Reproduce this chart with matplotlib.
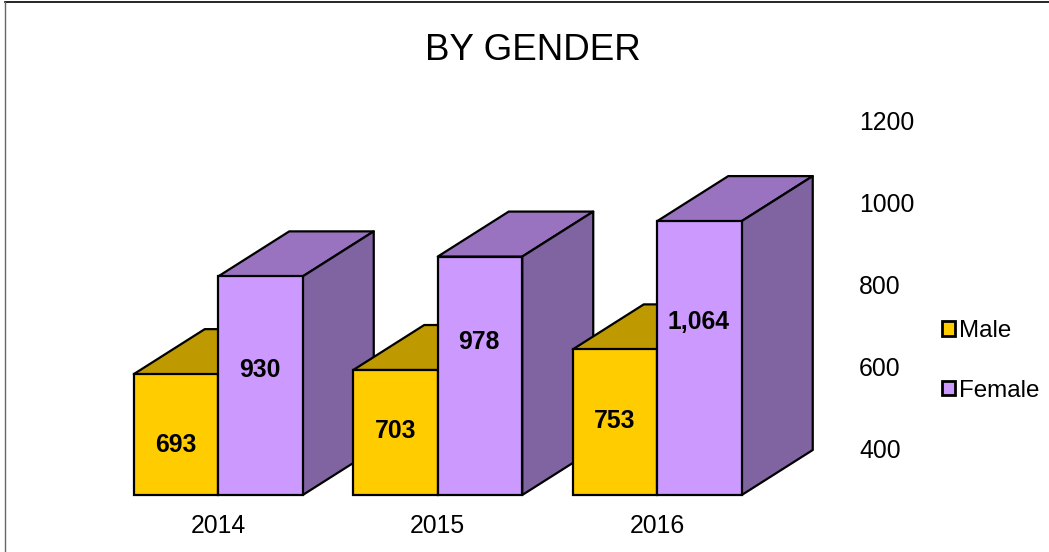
import matplotlib
matplotlib.use("Agg")
import matplotlib.pyplot as plt
import numpy as np
from matplotlib.lines import Line2D
from matplotlib.patches import Patch

plt.rcParams['font.family'] = ['Liberation Sans', 'DejaVu Sans']

years = ["2014", "2015", "2016"]
male = [693, 703, 753]
female = [930, 978, 1064]
male_labels = ["693", "703", "753"]
female_labels = ["930", "978", "1,064"]
axis_ticks = [400, 600, 800, 1000, 1200]

W, H = 1049, 552
BASE = 495           # pixel row of the front baseline
PX_PER_UNIT = 0.4125
DEPTH_X_PX, DEPTH_Y_PX = 71, 45
STEP_PX = 219.5
BAR = 84.5 / STEP_PX
DX = DEPTH_X_PX / STEP_PX
DY = DEPTH_Y_PX / PX_PER_UNIT

# where the data labels sit on the value scale
male_label_pos = [522, 556, 580]
female_label_pos = [704, 772, 820]

EDGE = 1.6
FONT = 17.8


def axes_px(left, right, top, bottom):
    return [left / W, 1 - bottom / H, (right - left) / W, (bottom - top) / H]


def draw_bar(ax, x, v, front, top_c, side_c):
    ax.bar(x, v - 400, BAR, bottom=400, color=front, edgecolor="black", linewidth=EDGE, zorder=3, clip_on=False)
    l, r = x - BAR / 2, x + BAR / 2
    ax.fill([l, r, r + DX, l + DX], [v, v, v + DY, v + DY], facecolor=top_c,
            edgecolor="black", linewidth=EDGE, zorder=2, clip_on=False, joinstyle="round")
    ax.fill([r, r + DX, r + DX, r], [400, 400 + DY, v + DY, v], facecolor=side_c,
            edgecolor="black", linewidth=EDGE, zorder=2, clip_on=False, joinstyle="round")


fig = plt.figure(figsize=(W / 100, H / 100), dpi=100, facecolor="white")

# front plane: the bars
ax = fig.add_axes(axes_px(108.5, 767, BASE - 800 * PX_PER_UNIT, BASE))
ax.set_xlim(-0.5, 2.5)
ax.set_ylim(400, 1200)
ax.patch.set_visible(False)
for s in ax.spines.values():
    s.set_visible(False)
ax.set_yticks([])
ax.set_xticks(np.arange(len(years)))
ax.set_xticklabels(years, fontsize=FONT)
ax.tick_params(axis="x", length=0, pad=14)

for i in range(len(years)):
    xm = i - BAR / 2
    xf = i + BAR / 2
    draw_bar(ax, xm, male[i], "#FFCC00", "#BF9900", "#BF9900")
    # the female bar goes on top of the male one
    draw_bar(ax, xf, female[i], "#CC99FF", "#9973BF", "#8064A2")
    ax.text(xm, male_label_pos[i], male_labels[i], ha="center", va="center",
            fontsize=FONT, fontweight="bold", zorder=6)
    ax.text(xf - 0.004, female_label_pos[i], female_labels[i], ha="center", va="center",
            fontsize=FONT, fontweight="bold", zorder=6)

# back plane: carries the value axis
back = fig.add_axes(axes_px(400, 834, BASE - DEPTH_Y_PX - 1 - 800 * 0.41125, BASE - DEPTH_Y_PX - 1))
back.set_ylim(400, 1200)
back.patch.set_visible(False)
for s in back.spines.values():
    s.set_visible(False)
back.set_xticks([])
back.yaxis.tick_right()
back.set_yticks(axis_ticks)
back.tick_params(axis="y", length=0, pad=18, labelsize=FONT)

fig.text(533 / W, 1 - 51 / H, "BY GENDER", ha="center", va="center", fontsize=26.5)

handles = [Patch(facecolor="#FFCC00", edgecolor="black", linewidth=2),
           Patch(facecolor="#CC99FF", edgecolor="black", linewidth=2)]
fig.legend(handles, ["Male", "Female"], loc="center left", bbox_to_anchor=(942 / W, 1 - 361 / H),
           frameon=False, fontsize=17.4, handlelength=0.55, handleheight=0.55,
           handletextpad=0.15, labelspacing=1.55, borderpad=0, borderaxespad=0)

# chart border: only top and left are inside the picture
fig.add_artist(Line2D([5 / W, 1], [1 - 2 / H, 1 - 2 / H], color="black", linewidth=1.2))
fig.add_artist(Line2D([5 / W, 5 / W], [0, 1 - 2 / H], color="#666666", linewidth=1.0))

fig.savefig("out.png", dpi=100)
